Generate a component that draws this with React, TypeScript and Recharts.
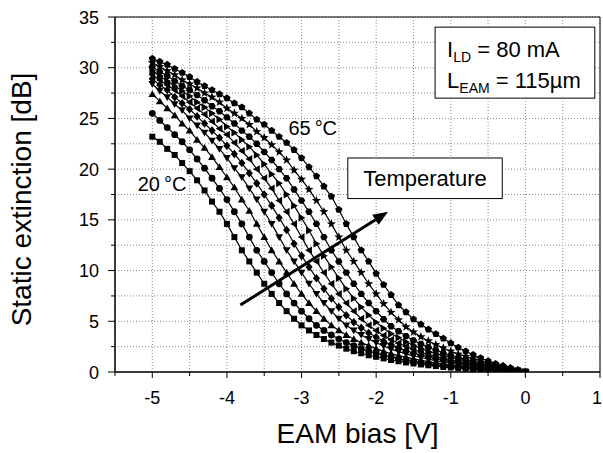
import React from 'react';
import {
  LineChart,
  Line,
  XAxis,
  YAxis,
  CartesianGrid,
  ReferenceArea,
  ReferenceLine,
  ReferenceDot,
} from 'recharts';

const FONT = "'Liberation Sans', Arial, Helvetica, sans-serif";

// EAM bias (V)
const biasV = [
  -5.0, -4.9, -4.8, -4.7, -4.6, -4.5, -4.4, -4.3, -4.2, -4.1, -4.0, -3.9, -3.8, -3.7, -3.6, -3.5, -3.4,
  -3.3, -3.2, -3.1, -3.0, -2.9, -2.8, -2.7, -2.6, -2.5, -2.4, -2.3, -2.2, -2.1, -2.0, -1.9, -1.8,
  -1.7, -1.6, -1.5, -1.4, -1.3, -1.2, -1.1, -1.0, -0.9, -0.8, -0.7, -0.6, -0.5, -0.4, -0.3, -0.2,
  -0.1, 0.0,
];

// Static extinction (dB) per temperature
const ext20 = [23.2,22.7,22.0,21.4,20.6,19.8,18.9,17.9,16.8,15.8,14.6,13.3,12.0,10.9,9.8,8.7,7.7,6.8,6.0,5.25,4.6,4.1,3.65,3.25,2.9,2.6,2.3,2.05,1.85,1.65,1.5,1.34,1.18,1.06,0.94,0.84,0.74,0.66,0.58,0.5,0.44,0.38,0.32,0.28,0.23,0.19,0.15,0.11,0.07,0.04,0];
const ext25 = [25.5,24.8,24.1,23.4,22.7,21.9,21.0,20.1,19.1,18.1,17.0,15.8,14.6,13.3,12.0,10.9,9.8,8.7,7.7,6.8,6.0,5.25,4.6,4.1,3.65,3.25,2.9,2.6,2.3,2.05,1.85,1.63,1.47,1.32,1.16,1.04,0.92,0.82,0.73,0.64,0.55,0.47,0.41,0.35,0.29,0.23,0.18,0.14,0.09,0.04,0];
const ext30 = [27.4,26.7,26.0,25.3,24.5,23.8,22.9,22.1,21.2,20.2,19.2,18.2,17.0,15.9,14.6,13.3,12.0,10.9,9.8,8.7,7.7,6.8,6.0,5.25,4.6,4.1,3.65,3.25,2.9,2.6,2.3,2.03,1.81,1.62,1.46,1.3,1.14,1.02,0.9,0.79,0.69,0.6,0.51,0.43,0.36,0.29,0.23,0.17,0.11,0.06,0];
const ext35 = [28.4,27.7,27.1,26.4,25.8,25.0,24.3,23.6,22.8,22.0,21.1,20.1,19.2,18.1,17.0,15.8,14.6,13.3,12.0,10.9,9.8,8.7,7.7,6.8,6.0,5.25,4.6,4.1,3.65,3.25,2.9,2.57,2.25,2.01,1.79,1.58,1.43,1.27,1.12,0.98,0.86,0.75,0.65,0.55,0.46,0.37,0.29,0.22,0.14,0.07,0];
const ext40 = [28.9,28.3,27.8,27.1,26.5,25.9,25.2,24.5,23.8,23.1,22.3,21.5,20.6,19.6,18.6,17.5,16.4,15.2,14.0,12.65,11.45,10.35,9.25,8.2,7.25,6.4,5.6,4.9,4.35,3.85,3.45,3.02,2.7,2.4,2.09,1.87,1.66,1.49,1.33,1.16,1.01,0.88,0.76,0.65,0.55,0.44,0.34,0.25,0.17,0.08,0];
const ext45 = [29.3,28.8,28.3,27.8,27.2,26.6,26.0,25.4,24.7,24.0,23.4,22.6,21.8,21.0,20.0,19.1,18.1,16.9,15.8,14.6,13.3,12.0,10.9,9.8,8.7,7.7,6.8,6.0,5.25,4.6,4.1,3.61,3.19,2.84,2.52,2.21,1.95,1.74,1.53,1.37,1.2,1.03,0.9,0.77,0.64,0.52,0.41,0.3,0.2,0.1,0];
const ext50 = [29.7,29.2,28.7,28.2,27.7,27.2,26.6,26.1,25.5,24.9,24.2,23.6,22.9,22.2,21.4,20.5,19.5,18.6,17.5,16.4,15.2,13.95,12.65,11.45,10.35,9.25,8.2,7.25,6.4,5.6,4.9,4.31,3.77,3.38,2.96,2.64,2.33,2.02,1.81,1.59,1.41,1.23,1.06,0.9,0.75,0.62,0.48,0.36,0.24,0.12,0];
const ext55 = [30.1,29.6,29.2,28.7,28.2,27.8,27.3,26.8,26.2,25.7,25.1,24.5,23.8,23.2,22.5,21.7,20.9,20.0,19.1,18.0,16.9,15.8,14.6,13.3,12.0,10.9,9.8,8.7,7.7,6.8,6.0,5.2,4.51,4.02,3.54,3.12,2.76,2.44,2.14,1.87,1.65,1.42,1.25,1.07,0.89,0.72,0.57,0.43,0.28,0.14,0];
const ext60 = [30.5,30.1,29.7,29.3,28.8,28.4,28.0,27.5,27.1,26.6,26.0,25.5,25.0,24.4,23.7,23.1,22.4,21.7,20.9,19.9,19.0,18.0,16.9,15.8,14.6,13.3,12.0,10.9,9.8,8.7,7.7,6.73,5.88,5.15,4.46,3.94,3.47,3.06,2.7,2.37,2.05,1.76,1.54,1.3,1.11,0.9,0.71,0.53,0.35,0.17,0];
const ext65 = [30.9,30.6,30.3,29.9,29.5,29.1,28.6,28.2,27.8,27.4,27.0,26.5,26.1,25.5,24.9,24.4,23.8,23.2,22.6,21.9,21.1,20.2,19.3,18.3,17.3,16.0,14.6,13.3,12.0,10.9,9.7,8.6,7.6,6.6,5.9,5.2,4.7,4.2,3.75,3.3,2.85,2.42,2.05,1.7,1.38,1.08,0.82,0.6,0.4,0.2,0];

const seriesKeys = ['t20', 't25', 't30', 't35', 't40', 't45', 't50', 't55', 't60', 't65'];
const seriesValues = [ext20, ext25, ext30, ext35, ext40, ext45, ext50, ext55, ext60, ext65];
const seriesMarkers = ['square', 'circle', 'up', 'down', 'diamond', 'left', 'right', 'hexagon', 'star', 'pentagon'];

const xTicks = [-5.5, -5, -4.5, -4, -3.5, -3, -2.5, -2, -1.5, -1, -0.5, 0, 0.5, 1];
const yTicks = [0, 2.5, 5, 7.5, 10, 12.5, 15, 17.5, 20, 22.5, 25, 27.5, 30, 32.5, 35];

const data = biasV.map((v, i) => {
  const row: Record<string, number> = { bias: v };
  seriesKeys.forEach((k, j) => {
    row[k] = seriesValues[j][i];
  });
  return row;
});

function regular(cx: number, cy: number, n: number, r: number, rot: number) {
  const pts: string[] = [];
  for (let i = 0; i < n; i++) {
    const a = rot + (i * 2 * Math.PI) / n;
    pts.push(`${cx + r * Math.cos(a)},${cy + r * Math.sin(a)}`);
  }
  return pts.join(' ');
}

function starPts(cx: number, cy: number, ro: number, ri: number) {
  const pts: string[] = [];
  for (let i = 0; i < 10; i++) {
    const r = i % 2 === 0 ? ro : ri;
    const a = -Math.PI / 2 + (i * Math.PI) / 5;
    pts.push(`${cx + r * Math.cos(a)},${cy + r * Math.sin(a)}`);
  }
  return pts.join(' ');
}

function Marker({ shape, cx, cy }: { shape: string; cx: number; cy: number }) {
  if (cx == null || cy == null || isNaN(cx) || isNaN(cy)) return <g />;
  switch (shape) {
    case 'square':
      return <rect x={cx - 3} y={cy - 3} width={6} height={6} fill="#000" />;
    case 'circle':
      return <circle cx={cx} cy={cy} r={3.4} fill="#000" />;
    case 'up':
      return <polygon points={regular(cx, cy + 0.7, 3, 4.5, -Math.PI / 2)} fill="#000" />;
    case 'down':
      return <polygon points={regular(cx, cy - 0.7, 3, 4.5, Math.PI / 2)} fill="#000" />;
    case 'diamond':
      return <polygon points={`${cx},${cy - 4.3} ${cx + 3.6},${cy} ${cx},${cy + 4.3} ${cx - 3.6},${cy}`} fill="#000" />;
    case 'left':
      return <polygon points={regular(cx + 0.7, cy, 3, 4.5, Math.PI)} fill="#000" />;
    case 'right':
      return <polygon points={regular(cx - 0.7, cy, 3, 4.5, 0)} fill="#000" />;
    case 'hexagon':
      return <polygon points={regular(cx, cy, 6, 3.7, 0)} fill="#000" />;
    case 'star':
      return <polygon points={starPts(cx, cy, 4.8, 2.0)} fill="#000" />;
    default:
      return <polygon points={regular(cx, cy, 5, 3.8, -Math.PI / 2)} fill="#000" />;
  }
}

const XTick = (props: any) => {
  const { x, y, payload } = props;
  const v = payload.value as number;
  const major = Math.abs(v - Math.round(v)) < 1e-6;
  const tx = v >= 1 ? x - 3 : x;
  return (
    <g>
      <line x1={x} y1={y} x2={x} y2={y + (major ? 6 : 4)} stroke="#000" strokeWidth={1} />
      {major && (
        <text x={tx} y={y + 32} textAnchor="middle" fontSize={18} fontFamily={FONT} fill="#000">
          {String(v)}
        </text>
      )}
    </g>
  );
};

const YTick = (props: any) => {
  const { x, y, payload } = props;
  const v = payload.value as number;
  const major = Math.abs(v / 5 - Math.round(v / 5)) < 1e-6;
  return (
    <g>
      <line x1={x - (major ? 7 : 4)} y1={y} x2={x} y2={y} stroke="#000" strokeWidth={1} />
      {major && (
        <text x={x - 16} y={y + 6.5} textAnchor="end" fontSize={18} fontFamily={FONT} fill="#000">
          {String(v)}
        </text>
      )}
    </g>
  );
};

const XTitle = (props: any) => {
  const vb = props.viewBox || { x: 115, y: 372, width: 485, height: 81 };
  return (
    <text x={vb.x + vb.width / 2} y={vb.y + 71} textAnchor="middle" fontSize={28} fontFamily={FONT} fill="#000">
      EAM bias [V]
    </text>
  );
};

const YTitle = (props: any) => {
  const vb = props.viewBox || { x: 0, y: 17, width: 115, height: 355 };
  const cx = vb.x + 31;
  const cy = vb.y + vb.height / 2 + 5;
  return (
    <text
      x={cx}
      y={cy}
      textAnchor="middle"
      fontSize={28}
      fontFamily={FONT}
      fill="#000"
      transform={`rotate(-90, ${cx}, ${cy})`}
    >
      Static extinction [dB]
    </text>
  );
};

const ArrowShape = (p: any) => {
  const { x1, y1, x2, y2 } = p;
  const dx = x2 - x1;
  const dy = y2 - y1;
  const len = Math.sqrt(dx * dx + dy * dy) || 1;
  const ux = dx / len;
  const uy = dy / len;
  const hl = 15;
  const hw = 6;
  const bx = x2 - ux * hl;
  const by = y2 - uy * hl;
  return (
    <g>
      <line x1={x1} y1={y1} x2={bx + ux * 2} y2={by + uy * 2} stroke="#000" strokeWidth={3} />
      <polygon
        points={`${x2},${y2} ${bx - uy * hw},${by + ux * hw} ${bx + uy * hw},${by - ux * hw}`}
        fill="#000"
      />
    </g>
  );
};

const ParamBox = (p: any) => {
  const { x, y, width, height } = p;
  return (
    <g>
      <rect x={x} y={y} width={width} height={height} fill="#fff" stroke="#000" strokeWidth={1} />
      <text x={x + 12} y={y + 30} fontSize={22} fontFamily={FONT} fill="#000">
        I<tspan fontSize={14} dy={5}>LD</tspan>
        <tspan dy={-5}> = 80 mA</tspan>
      </text>
      <text x={x + 12} y={y + 61} fontSize={22} fontFamily={FONT} fill="#000">
        L<tspan fontSize={14} dy={5}>EAM</tspan>
        <tspan dy={-5}> = 115µm</tspan>
      </text>
    </g>
  );
};

const TempBox = (p: any) => {
  const { x, y, width, height } = p;
  return (
    <g>
      <rect x={x} y={y} width={width} height={height} fill="#fff" stroke="#000" strokeWidth={1} />
      <text x={x + width / 2} y={y + height / 2 + 8} textAnchor="middle" fontSize={22} fontFamily={FONT} fill="#000">
        Temperature
      </text>
    </g>
  );
};

const makeLabel = (txt: string) => (p: any) => (
  <text x={p.cx} y={p.cy + 7} textAnchor="middle" fontSize={20} fontFamily={FONT} fill="#000">
    {txt}
  </text>
);

export default function App() {
  return (
    <div style={{ position: 'absolute', left: 0, top: 0, width: 603, height: 453, background: '#fff' }}>
      <LineChart width={603} height={453} data={data} margin={{ top: 17, right: 3, left: 0, bottom: 0 }}>
        <CartesianGrid stroke="#8a8a8a" strokeDasharray="1 2" />
        <ReferenceArea
          x1={-5.5}
          x2={1}
          y1={0}
          y2={35}
          fill="none"
          stroke="#000"
          strokeWidth={1}
          fillOpacity={0}
          ifOverflow="visible"
        />
        <XAxis
          dataKey="bias"
          type="number"
          domain={[-5.5, 1]}
          ticks={xTicks}
          interval={0}
          tickSize={0}
          tickMargin={0}
          tickLine={false}
          tick={<XTick />}
          axisLine={{ stroke: '#000', strokeWidth: 1 }}
          height={81}
          allowDataOverflow
          label={XTitle}
        />
        <YAxis
          type="number"
          domain={[0, 35]}
          ticks={yTicks}
          interval={0}
          tickSize={0}
          tickMargin={0}
          tickLine={false}
          tick={<YTick />}
          axisLine={{ stroke: '#000', strokeWidth: 1 }}
          width={115}
          allowDataOverflow
          label={YTitle}
        />
        {seriesKeys.map((k, j) => (
          <Line
            key={k}
            dataKey={k}
            type="linear"
            stroke="#000"
            strokeWidth={1.2}
            isAnimationActive={false}
            dot={(p: any) => <Marker key={`${k}-${p.index}`} shape={seriesMarkers[j]} cx={p.cx} cy={p.cy} />}
            activeDot={false}
          />
        ))}
        <ReferenceLine
          segment={[
            { x: -3.82, y: 6.6 },
            { x: -1.84, y: 15.8 },
          ]}
          ifOverflow="visible"
          shape={ArrowShape}
        />
        <ReferenceArea x1={-2.38} x2={-0.31} y1={17.1} y2={21.1} ifOverflow="visible" shape={TempBox} />
        <ReferenceArea x1={-1.21} x2={0.93} y1={27.0} y2={34.0} ifOverflow="visible" shape={ParamBox} />
        <ReferenceDot x={-4.87} y={18.5} r={0} ifOverflow="visible" shape={makeLabel('20\u2009°C')} />
        <ReferenceDot x={-2.85} y={24.1} r={0} ifOverflow="visible" shape={makeLabel('65\u2009°C')} />
      </LineChart>
    </div>
  );
}
